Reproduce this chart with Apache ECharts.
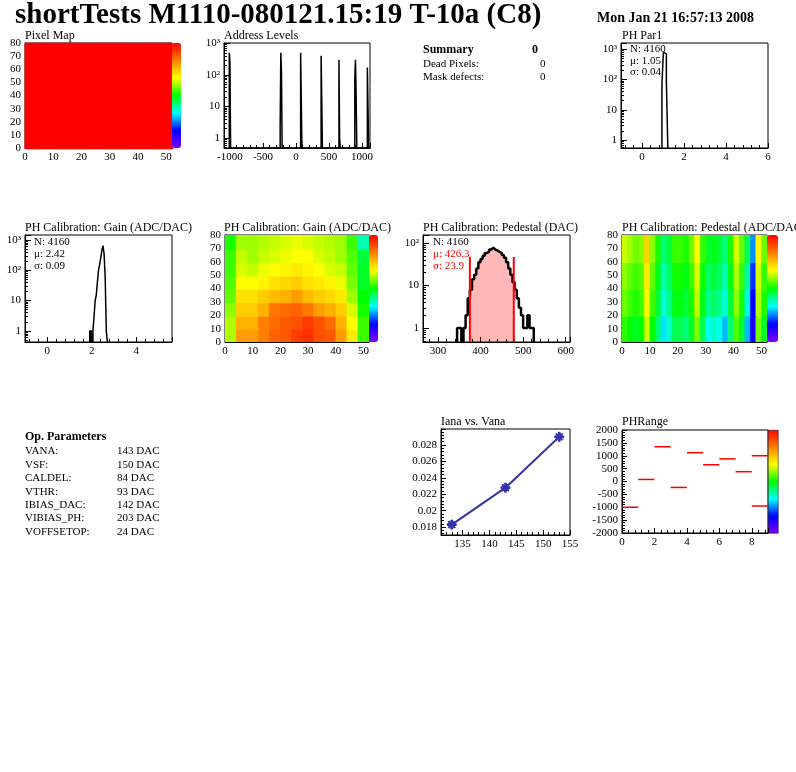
<!DOCTYPE html>
<html>
<head>
<meta charset="utf-8">
<script src="https://cdn.jsdelivr.net/npm/echarts@6/dist/echarts.min.js"></script>
<style>
  html, body { margin: 0; padding: 0; background: #fff; }
  #c { width: 796px; height: 772px; }
</style>
</head>
<body>
<div id="c"></div>
<script>
// ---- data ----
const pixelCols = 52, pixelRows = 80, pixelHits = 10;

// address levels: [bin start, count], bin width 10
const addrBins = [[-1010, 500], [-1000, 250], [-240, 2], [-230, 500], [-220, 120],
  [70, 500], [80, 480], [380, 400], [390, 450], [650, 300], [660, 1],
  [890, 75], [900, 300], [910, 23], [1080, 170], [1090, 170]];

// PH Par1, bin width 0.07
const par1Bins = [[0.95, 75], [1.02, 800], [1.09, 700], [1.16, 90]];

// gain histogram, bin width 0.05
const gainLowBins = [[1.9, 1], [1.95, 1]];
const gainBins = [[2.05, 1], [2.1, 3], [2.15, 10], [2.2, 15], [2.25, 40], [2.3, 100], [2.35, 150],
  [2.4, 250], [2.45, 450], [2.5, 650], [2.55, 350], [2.6, 60], [2.65, 1]];

// gain map: 8 row blocks (10 rows each, bottom first) x 13 column blocks (4 cols each)
const gainMap = [
  [2.36, 2.5, 2.5, 2.53, 2.56, 2.57, 2.6, 2.61, 2.58, 2.57, 2.5, 2.42, 2.3],
  [2.36, 2.48, 2.48, 2.53, 2.55, 2.57, 2.58, 2.6, 2.58, 2.55, 2.48, 2.4, 2.3],
  [2.34, 2.45, 2.45, 2.48, 2.54, 2.55, 2.56, 2.54, 2.5, 2.48, 2.45, 2.38, 2.28],
  [2.32, 2.43, 2.43, 2.45, 2.47, 2.48, 2.5, 2.47, 2.45, 2.44, 2.42, 2.35, 2.27],
  [2.31, 2.4, 2.4, 2.41, 2.43, 2.44, 2.45, 2.43, 2.42, 2.41, 2.39, 2.33, 2.25],
  [2.3, 2.38, 2.37, 2.39, 2.4, 2.41, 2.42, 2.41, 2.4, 2.38, 2.37, 2.32, 2.25],
  [2.3, 2.37, 2.35, 2.37, 2.38, 2.39, 2.4, 2.4, 2.38, 2.37, 2.35, 2.31, 2.24],
  [2.28, 2.35, 2.35, 2.36, 2.37, 2.38, 2.39, 2.38, 2.37, 2.36, 2.35, 2.3, 2.18]
];

// pedestal histogram, bin width 5
const pedBins = [[345, 1], [350, 1], [360, 1], [365, 2], [370, 5], [375, 8], [380, 14], [385, 18],
  [390, 25], [395, 35], [400, 42], [405, 50], [410, 58], [415, 62], [420, 70], [425, 78],
  [430, 70], [435, 66], [440, 62], [445, 58], [450, 52], [455, 45], [460, 35], [465, 25],
  [470, 18], [475, 12], [480, 8], [485, 5], [490, 3], [495, 2], [500, 1], [505, 1],
  [510, 2], [515, 1], [520, 1]];
const pedFitRange = [375, 478];

// pedestal map: 4 row blocks (20 rows each, bottom first) x 26 column blocks (2 cols each)
const pedMap = [
  [440, 435, 430, 435, 460, 435, 420, 400, 410, 425, 425, 420, 430, 450, 425, 405, 410, 405, 395, 420, 445, 430, 395, 365, 450, 430],
  [448, 443, 438, 443, 468, 443, 428, 408, 418, 433, 433, 428, 438, 458, 433, 418, 423, 418, 408, 428, 453, 438, 408, 372, 458, 438],
  [452, 447, 442, 447, 472, 447, 432, 413, 423, 437, 437, 432, 442, 462, 437, 423, 428, 423, 413, 432, 457, 442, 415, 378, 462, 442],
  [460, 455, 448, 452, 478, 452, 438, 420, 428, 442, 442, 438, 448, 468, 442, 430, 432, 428, 420, 438, 462, 448, 425, 390, 468, 448]
];

// Iana vs Vana
const vana = [133, 143, 153];
const iana = [0.0183, 0.0228, 0.0290];

// PHRange: [bin start, value]
const phRange = [[0, -1000], [1, 80], [2, 1350], [3, -230], [4, 1120], [5, 650], [6, 880],
  [7, 380], [8, 1000], [8, -950]];

const opParams = [['VANA:', '143 DAC'], ['VSF:', '150 DAC'], ['CALDEL:', '84 DAC'], ['VTHR:', '93 DAC'],
  ['IBIAS_DAC:', '142 DAC'], ['VIBIAS_PH:', '203 DAC'], ['VOFFSETOP:', '24 DAC']];

// ---- helpers ----
const FONT = 'Liberation Serif';
const palette = ['#8000ff', '#0000ff', '#00ffff', '#00ff00', '#ffff00', '#ff8000', '#ff0000'];

function histLine(bins, w, floor) {
  const pts = [];
  let end = null;
  bins.forEach(([x0, y]) => {
    if (end === null || Math.abs(end - x0) > 1e-9) {
      if (end !== null) pts.push([end, floor]);
      pts.push([x0, floor]);
    }
    pts.push([x0, y], [x0 + w, y]);
    end = x0 + w;
  });
  pts.push([end, floor]);
  return pts;
}

function blockCells(map, cw, ch) {
  const out = [];
  map.forEach((row, r) => row.forEach((v, c) => out.push([c * cw, r * ch, cw, ch, v])));
  return out;
}

function cellRect(params, api) {
  const p0 = api.coord([api.value(0), api.value(1)]);
  const p1 = api.coord([api.value(0) + api.value(2), api.value(1) + api.value(3)]);
  const c = api.visual('color');
  return {
    type: 'rect',
    shape: { x: p0[0], y: p1[1], width: p1[0] - p0[0] + 1, height: p0[1] - p1[1] + 1 },
    style: { fill: c, stroke: c, lineWidth: 0.5 }
  };
}

const lbl = { fontFamily: FONT, fontSize: 11, color: '#000', margin: 4 };
function xAx(gi, min, max, o = {}) {
  return Object.assign({
    type: 'value', gridIndex: gi, min, max, splitNumber: 5,
    axisLine: { onZero: false, lineStyle: { color: '#000' } },
    axisTick: { inside: true, length: 5, lineStyle: { color: '#000' } },
    minorTick: { show: true, length: 3, lineStyle: { color: '#000' } },
    splitLine: { show: false },
    axisLabel: Object.assign({}, lbl, { showMinLabel: false, showMaxLabel: false })
  }, o);
}
const yAx = xAx;
const pow = v => {
  const m = { 1: '1', 10: '10', 100: '10²', 1000: '10³' };
  const k = Object.keys(m).find(k => Math.abs(v - k) < 1e-6 * k);
  return k ? m[k] : '';
};
function logY(gi, min, max) {
  return {
    type: 'log', logBase: 10, gridIndex: gi, min, max,
    axisLine: { onZero: false, lineStyle: { color: '#000' } },
    axisTick: { inside: true, length: 6, lineStyle: { color: '#000' } },
    minorTick: { show: true, length: 3, splitNumber: 9, lineStyle: { color: '#000' } },
    splitLine: { show: false },
    axisLabel: Object.assign({}, lbl, { formatter: pow })
  };
}

const grids = [
  [25, 43, 147, 105], [224, 43, 146, 105], [621, 43, 147, 105],
  [25, 235, 147, 107], [225, 235, 144, 107], [423, 235, 147, 107], [622, 235, 145, 107],
  [441, 429, 129, 106], [622, 430, 146, 103]
].map(([l, t, w, h]) => ({ left: l, top: t, width: w, height: h, show: true, borderColor: '#000', borderWidth: 1, backgroundColor: '#fff' }));

const xAxis = [
  xAx(0, 0, 52, { axisLabel: Object.assign({}, lbl, { showMaxLabel: false }) }),
  xAx(1, -1090, 1120, { axisLabel: Object.assign({}, lbl, { formatter: v => (v % 500 === 0 ? String(v) : '') }) }),
  xAx(2, -1, 6, { splitNumber: 3, axisLabel: Object.assign({}, lbl, { formatter: v => (v % 2 === 0 ? String(v) : '') }) }),
  xAx(3, -1, 5.6, { splitNumber: 3, axisLabel: Object.assign({}, lbl, { formatter: v => (v % 2 === 0 ? String(v) : '') }) }),
  xAx(4, 0, 52, { axisLabel: Object.assign({}, lbl, { showMaxLabel: false }) }),
  xAx(5, 265, 610, { splitNumber: 3, axisLabel: Object.assign({}, lbl, { formatter: v => (v % 100 === 0 ? String(v) : '') }) }),
  xAx(6, 0, 52, { axisLabel: Object.assign({}, lbl, { showMaxLabel: false }) }),
  xAx(7, 131, 155, { splitNumber: 4, axisLabel: Object.assign({}, lbl, { showMaxLabel: true, formatter: v => (v % 5 === 0 ? String(v) : '') }) }),
  xAx(8, 0, 9, { splitNumber: 4, axisLabel: Object.assign({}, lbl, { formatter: v => (v % 2 === 0 ? String(v) : '') }) })
];
const yAxis = [
  yAx(0, 0, 80, { interval: 10, axisLabel: Object.assign({}, lbl) }),
  logY(1, 0.48, 1020),
  logY(2, 0.55, 1600),
  logY(3, 0.43, 1460),
  yAx(4, 0, 80, { interval: 10, axisLabel: Object.assign({}, lbl) }),
  logY(5, 0.47, 154),
  yAx(6, 0, 80, { interval: 10, axisLabel: Object.assign({}, lbl) }),
  yAx(7, 0.01703, 0.02995, { splitNumber: 6, axisLabel: Object.assign({}, lbl, { formatter: v => (Math.abs(v * 1000 - Math.round(v * 1000)) < 1e-6 && Math.round(v * 1000) % 2 === 0 ? String(+v.toFixed(3)) : '') }) }),
  yAx(8, -2000, 2000, { interval: 500, axisLabel: Object.assign({}, lbl, { showMinLabel: true, showMaxLabel: true, formatter: v => String(v) }) })
];

const pixelCells = [];
for (let c = 0; c < pixelCols; c++) for (let r = 0; r < pixelRows; r++) pixelCells.push([c, r, 1, 1, pixelHits]);

const stepLine = (xi, data, o = {}) => Object.assign({
  type: 'line', xAxisIndex: xi, yAxisIndex: xi, data, symbol: 'none', silent: true,
  lineStyle: { color: '#000', width: 1.2 }, animation: false, clip: true
}, o);

const fitBins = pedBins.filter(b => b[0] >= pedFitRange[0] && b[0] + 5 <= pedFitRange[1] + 3);

const series = [
  { type: 'custom', xAxisIndex: 0, yAxisIndex: 0, data: pixelCells, renderItem: cellRect, encode: { x: 0, y: 1 }, clip: true, animation: false },
  stepLine(1, histLine(addrBins, 10, 0.48), { lineStyle: { color: '#000', width: 1.5 } }),
  stepLine(2, histLine(par1Bins, 0.07, 0.55), { lineStyle: { color: '#000', width: 1.5 } }),
  stepLine(3, histLine(gainLowBins, 0.05, 0.43), { areaStyle: { color: '#000', opacity: 1, origin: 'start' } }),
  stepLine(3, histLine(gainBins, 0.05, 0.43), { lineStyle: { color: '#000', width: 1.5 } }),
  { type: 'custom', xAxisIndex: 4, yAxisIndex: 4, data: blockCells(gainMap, 4, 10), renderItem: cellRect, encode: { x: 0, y: 1 }, clip: true, animation: false },
  stepLine(5, histLine(fitBins, 5, 0.47), { lineStyle: { width: 0 }, areaStyle: { color: 'rgba(255,0,0,0.28)', opacity: 1, origin: 'start' } }),
  stepLine(5, histLine(pedBins, 5, 0.47), { lineStyle: { color: '#000', width: 2.5 } }),
  { type: 'custom', xAxisIndex: 6, yAxisIndex: 6, data: blockCells(pedMap, 2, 20), renderItem: cellRect, encode: { x: 0, y: 1 }, clip: true, animation: false },
  {
    type: 'line', xAxisIndex: 7, yAxisIndex: 7, data: vana.map((v, i) => [v, iana[i]]),
    lineStyle: { color: '#3333aa', width: 2 }, itemStyle: { color: '#3333aa', borderColor: '#3333aa', borderWidth: 1 },
    showSymbol: true, showAllSymbol: true,
    symbol: 'path://M0,4L10,4L10,6L0,6ZM4,0L6,0L6,10L4,10ZM1,2L2,1L9,8L8,9ZM8,1L9,2L2,9L1,8Z', symbolSize: 9, animation: false
  },
  {
    type: 'custom', xAxisIndex: 8, yAxisIndex: 8, data: phRange, clip: true, animation: false,
    encode: { x: 0, y: 1 },
    renderItem: (p, api) => {
      const a = api.coord([api.value(0), api.value(1)]);
      const b = api.coord([api.value(0) + 1, api.value(1)]);
      return { type: 'line', shape: { x1: a[0], y1: a[1], x2: b[0], y2: b[1] }, style: { stroke: '#ff0000', lineWidth: 1.5 } };
    }
  }
];
// red fit boundary lines on the pedestal histogram
pedFitRange.forEach(x => series.push(stepLine(5, [[x, 0.47], [x, 47]], { lineStyle: { color: '#ff0000', width: 2 } })));

const vm = (si, min, max, left, top, h, w) => ({
  type: 'continuous', seriesIndex: si, dimension: 4, min, max, inRange: { color: palette },
  show: true, left, top, itemWidth: w, itemHeight: h, calculable: false, padding: 0, text: null, showLabel: false
});

const T = (x, y, text, o = {}) => ({ type: 'text', left: x, top: y, z: 100, style: Object.assign({ text, fontFamily: FONT, fontSize: 12, fill: '#000' }, o) });
const graphic = [
  T(15, 1, 'shortTests M1110-080121.15:19 T-10a (C8)', { fontSize: 29, fontWeight: 'bold' }),
  T(597, 11, 'Mon Jan 21 16:57:13 2008', { fontSize: 14, fontWeight: 'bold' }),
  T(25, 30, 'Pixel Map'), T(224, 30, 'Address Levels'), T(622, 30, 'PH Par1'),
  T(25, 222, 'PH Calibration: Gain (ADC/DAC)'), T(224, 222, 'PH Calibration: Gain (ADC/DAC)'),
  T(423, 222, 'PH Calibration: Pedestal (DAC)'), T(622, 222, 'PH Calibration: Pedestal (ADC/DAC'),
  T(441, 416, 'Iana vs. Vana'), T(622, 416, 'PHRange'),
  T(423, 44, 'Summary', { fontWeight: 'bold' }), T(532, 44, '0', { fontWeight: 'bold' }),
  T(423, 59, 'Dead Pixels:', { fontSize: 11 }), T(540, 59, '0', { fontSize: 11 }),
  T(423, 72, 'Mask defects:', { fontSize: 11 }), T(540, 72, '0', { fontSize: 11 }),
  T(630, 44, 'N: 4160', { fontSize: 11 }), T(630, 56, 'μ: 1.05', { fontSize: 11 }), T(630, 67, 'σ: 0.04', { fontSize: 11 }),
  T(34, 237, 'N: 4160', { fontSize: 11 }), T(34, 249, 'μ: 2.42', { fontSize: 11 }), T(34, 261, 'σ: 0.09', { fontSize: 11 }),
  T(433, 237, 'N: 4160', { fontSize: 11 }), T(433, 249, 'μ: 426.3', { fontSize: 11, fill: '#ff0000' }), T(433, 261, 'σ: 23.9', { fontSize: 11, fill: '#ff0000' }),
  T(25, 431, 'Op. Parameters', { fontWeight: 'bold' }),
  { type: 'rect', left: 768, top: 430, shape: { width: 10, height: 103 }, style: { fill: new echarts.graphic.LinearGradient(0, 1, 0, 0, palette.map((c, i) => ({ offset: i / (palette.length - 1), color: c }))), stroke: '#000', lineWidth: 0.5 } }
];
opParams.forEach(([k, v], i) => {
  graphic.push(T(25, 446 + i * 13.4, k, { fontSize: 11 }), T(117, 446 + i * 13.4, v, { fontSize: 11 }));
});

const chart = echarts.init(document.getElementById('c'));
chart.setOption({
  animation: false,
  backgroundColor: '#fff',
  grid: grids, xAxis, yAxis, series,
  visualMap: [
    vm(0, 0, 10, 172, 43, 105, 9),
    vm(5, 1.88, 2.66, 369, 235, 107, 9),
    vm(8, 340, 530, 767, 235, 107, 11)
  ],
  graphic
});
</script>
</body>
</html>
